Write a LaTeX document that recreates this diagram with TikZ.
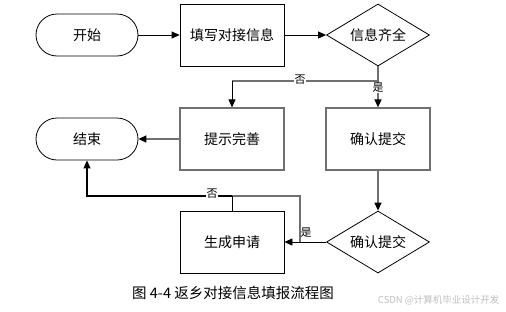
\documentclass[tikz,border=0pt]{standalone}
\usepackage{fontspec}
\newfontfamily\cjk{Noto Sans CJK SC}
\usetikzlibrary{arrows.meta,shapes.geometric}
\definecolor{lgray}{HTML}{707070}
\begin{document}
\begin{tikzpicture}[x=1pt,y=-1pt,
  box/.style={draw=black,line width=0.8pt,minimum width=104pt,minimum height=62pt,inner sep=0pt,font=\cjk\fontsize{14}{16}\selectfont},
  gbox/.style={box,draw=lgray,line width=1.2pt},
  term/.style={draw=black,line width=0.8pt,rounded corners=21pt,minimum width=102pt,minimum height=42pt,inner sep=0pt,font=\cjk\fontsize{14}{16}\selectfont},
  dia/.style={draw=black,line width=0.8pt,diamond,aspect=1.66,minimum width=103pt,minimum height=62pt,inner sep=0pt,font=\cjk\fontsize{14}{16}\selectfont},
  arr/.style={-{Triangle[length=8pt,width=7pt,color=black]},line width=0.8pt,black},
  garr/.style={-{Triangle[length=8pt,width=7pt,color=black]},line width=1.4pt,lgray},
  lbl/.style={font=\cjk\fontsize{11}{12}\selectfont,fill=white,inner sep=0.5pt}
]
\useasboundingbox (0,0) rectangle (506,311);
\node[term] (start) at (87,35) {开始};
\node[box] (fill) at (232,35) {填写对接信息};
\node[dia,shape aspect=1.66] (d1) at (378,35) {信息齐全};
\node[gbox] (hint) at (232,139) {提示完善};
\node[gbox] (conf) at (378,139) {确认提交};
\node[term] (end) at (87,139) {结束};
\node[dia,shape aspect=1.66] (d2) at (378,242) {确认提交};
\node[box] (gen) at (232,242) {生成申请};

\coordinate (j1) at (378,81);
\coordinate (j2) at (232,81);
\coordinate (k1) at (232,196);
\coordinate (k2) at (87,196);
\coordinate (m1) at (300,242);
\coordinate (m2) at (300,196);

\draw[arr] (start.east) -- (fill.west);
\draw[arr] (fill.east) -- (d1.west);
\draw[line width=1.4pt,lgray] (d1.south) -- (j1);
\draw[garr] (j1) -- (conf.north);
\draw[line width=1.2pt,lgray] (j1) -- (j2);
\draw[arr] (j2) -- (hint.north);
\draw[garr] (hint.west) -- (end.east);
\draw[garr] (conf.south) -- (d2.north);
\draw[arr] (d2.west) -- (gen.east);
\draw[line width=1.2pt,lgray] (m1) -- (m2) -- (k1);
\draw[line width=0.8pt] (gen.north) -- (k1);
\draw[arr,line width=1.1pt] (k1) -- (k2) -- (end.south);

\node[lbl] (no1) at (300,80) {否};
\node[lbl] (yes1) at (378,88) {是};
\node[lbl] (no2) at (212,194) {否};
\node[lbl,fill=none] (yes2) at (306,233) {是};

\node[font=\cjk\fontsize{14.5}{16}\selectfont] (cap) at (233,293) {图 4-4 返乡对接信息填报流程图};
\node[font=\cjk\fontsize{9.5}{10}\selectfont,text=black!25,anchor=east] (wm) at (503,300) {CSDN @计算机毕业设计开发};
\end{tikzpicture}
\end{document}
